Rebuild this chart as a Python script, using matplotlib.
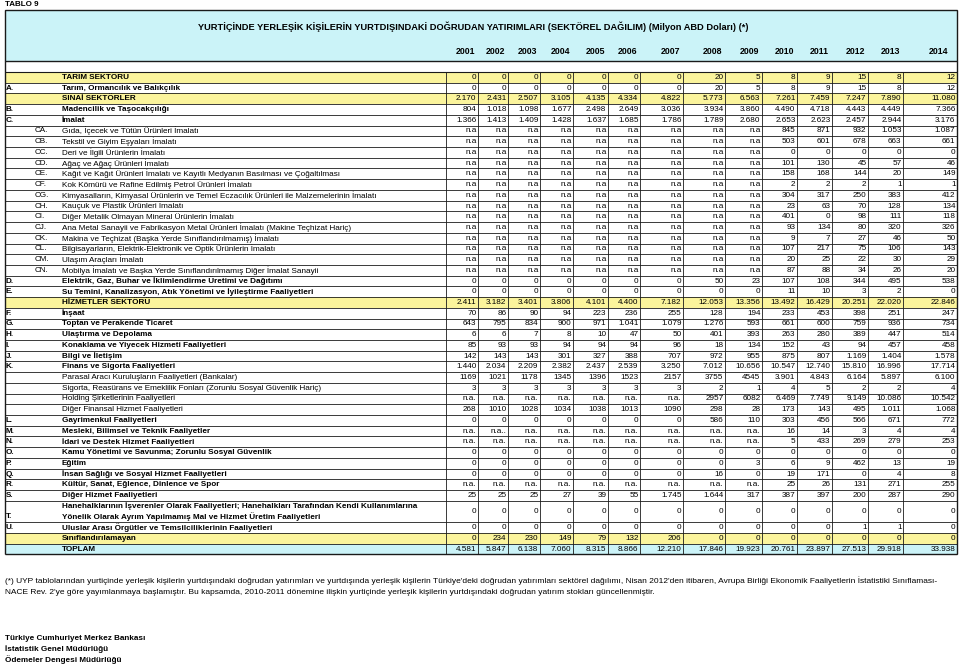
import matplotlib
matplotlib.use("Agg")
import matplotlib.pyplot as plt
from matplotlib import font_manager
from matplotlib.patches import Rectangle


# ---- table content -------------------------------------------------------

years = ["2001", "2002", "2003", "2004", "2005", "2006", "2007",
         "2008", "2009", "2010", "2011", "2012", "2013", "2014"]

NA9 = ["n.a"] * 9
NA9p = ["n.a."] * 9

rows = [
    # kind, code, name, values
    ("sector", "", "TARIM SEKTÖRÜ",
     ["0", "0", "0", "0", "0", "0", "0", "20", "5", "8", "9", "15", "8", "12"]),
    ("main", "A.", "Tarım, Ormancılık ve Balıkçılık",
     ["0", "0", "0", "0", "0", "0", "0", "20", "5", "8", "9", "15", "8", "12"]),
    ("sector", "", "SINAİ SEKTÖRLER",
     ["2.170", "2.431", "2.507", "3.105", "4.135", "4.334", "4.822",
      "5.773", "6.563", "7.261", "7.459", "7.247", "7.890", "11.080"]),
    ("main", "B.", "Madencilik ve Taşocakçılığı",
     ["804", "1.018", "1.098", "1.677", "2.498", "2.649", "3.036",
      "3.934", "3.860", "4.490", "4.718", "4.443", "4.449", "7.366"]),
    ("main", "C.", "İmalat",
     ["1.366", "1.413", "1.409", "1.428", "1.637", "1.685", "1.786",
      "1.789", "2.680", "2.653", "2.623", "2.457", "2.944", "3.176"]),
    ("sub", "CA.", "Gıda, İçecek ve Tütün Ürünleri İmalatı",
     NA9 + ["845", "871", "932", "1.053", "1.087"]),
    ("sub", "CB.", "Tekstil ve Giyim Eşyaları İmalatı",
     NA9 + ["503", "601", "678", "663", "661"]),
    ("sub", "CC.", "Deri ve İlgili Ürünlerin İmalatı",
     NA9 + ["0", "0", "0", "0", "0"]),
    ("sub", "CD.", "Ağaç ve Ağaç Ürünleri İmalatı",
     NA9 + ["101", "130", "45", "57", "46"]),
    ("sub", "CE.", "Kağıt ve Kağıt Ürünleri İmalatı ve Kayıtlı Medyanın "
                   "Basılması ve Çoğaltılması",
     NA9 + ["158", "168", "144", "20", "149"]),
    ("sub", "CF.", "Kok Kömürü ve Rafine Edilmiş Petrol Ürünleri İmalatı",
     NA9 + ["2", "2", "2", "1", "1"]),
    ("sub", "CG.", "Kimyasalların, Kimyasal Ürünlerin ve Temel Eczacılık "
                   "Ürünleri ile Malzemelerinin İmalatı",
     NA9 + ["304", "317", "250", "383", "412"]),
    ("sub", "CH.", "Kauçuk ve Plastik Ürünleri İmalatı",
     NA9 + ["23", "63", "70", "128", "134"]),
    ("sub", "CI.", "Diğer Metalik Olmayan Mineral Ürünlerin İmalatı",
     NA9 + ["401", "0", "98", "111", "118"]),
    ("sub", "CJ.", "Ana Metal Sanayii ve Fabrikasyon Metal Ürünleri "
                   "İmalatı (Makine Teçhizat Hariç)",
     NA9 + ["93", "134", "80", "320", "326"]),
    ("sub", "CK.", "Makina ve Teçhizat (Başka Yerde Sınıflandırılmamış) İmalatı",
     NA9 + ["9", "7", "27", "46", "50"]),
    ("sub", "CL.", "Bilgisayarların, Elektrik-Elektronik ve Optik "
                   "Ürünlerin İmalatı",
     NA9 + ["107", "217", "75", "106", "143"]),
    ("sub", "CM.", "Ulaşım Araçları İmalatı",
     NA9 + ["20", "25", "22", "30", "29"]),
    ("sub", "CN.", "Mobilya İmalatı ve Başka Yerde Sınıflandırılmamış "
                   "Diğer İmalat Sanayii",
     NA9 + ["87", "88", "34", "26", "20"]),
    ("main", "D.", "Elektrik, Gaz, Buhar ve İklimlendirme Üretimi ve Dağıtımı",
     ["0", "0", "0", "0", "0", "0", "0", "50", "23", "107", "108",
      "344", "495", "538"]),
    ("main", "E.", "Su Temini, Kanalizasyon, Atık Yönetimi ve "
                   "İyileştirme Faaliyetleri",
     ["0", "0", "0", "0", "0", "0", "0", "0", "0", "11", "10", "3", "2", "0"]),
    ("sector", "", "HİZMETLER SEKTÖRÜ",
     ["2.411", "3.182", "3.401", "3.806", "4.101", "4.400", "7.182",
      "12.053", "13.356", "13.492", "16.429", "20.251", "22.020", "22.846"]),
    ("main", "F.", "İnşaat",
     ["70", "86", "90", "94", "223", "236", "255", "128", "194", "233",
      "453", "398", "251", "247"]),
    ("main", "G.", "Toptan ve Perakende Ticaret",
     ["643", "795", "834", "900", "971", "1.041", "1.079", "1.276", "593",
      "661", "600", "759", "936", "734"]),
    ("main", "H.", "Ulaştırma ve Depolama",
     ["6", "6", "7", "8", "10", "47", "50", "401", "393", "263", "280",
      "389", "447", "514"]),
    ("main", "I.", "Konaklama ve Yiyecek Hizmeti Faaliyetleri",
     ["85", "93", "93", "94", "94", "94", "96", "18", "134", "152", "43",
      "94", "457", "458"]),
    ("main", "J.", "Bilgi ve İletişim",
     ["142", "143", "143", "301", "327", "388", "707", "972", "955", "875",
      "807", "1.169", "1.404", "1.578"]),
    ("main", "K.", "Finans ve Sigorta Faaliyetleri",
     ["1.440", "2.034", "2.209", "2.382", "2.437", "2.539", "3.250",
      "7.012", "10.656", "10.547", "12.740", "15.810", "16.996", "17.714"]),
    ("sub", "", "Parasal Aracı Kuruluşların Faaliyetleri (Bankalar)",
     ["1169", "1021", "1178", "1345", "1396", "1523", "2157", "3755",
      "4545", "3.901", "4.843", "6.164", "5.897", "6.100"]),
    ("sub", "", "Sigorta, Reasürans ve Emeklilik Fonları (Zorunlu Sosyal "
                "Güvenlik Hariç)",
     ["3", "3", "3", "3", "3", "3", "3", "2", "1", "4", "5", "2", "2", "4"]),
    ("sub", "", "Holding Şirketlerinin Faaliyetleri",
     ["n.a."] * 7 + ["2957", "6082", "6.469", "7.749", "9.149",
                     "10.086", "10.542"]),
    ("sub", "", "Diğer Finansal Hizmet Faaliyetleri",
     ["268", "1010", "1028", "1034", "1038", "1013", "1090", "298", "28",
      "173", "143", "495", "1.011", "1.068"]),
    ("main", "L.", "Gayrimenkul Faaliyetleri",
     ["0", "0", "0", "0", "0", "0", "0", "586", "110", "303", "456",
      "566", "671", "772"]),
    ("main", "M.", "Mesleki, Bilimsel ve Teknik Faaliyetler",
     ["n.a.", "n.a..", "n.a.", "n.a.", "n.a.", "n.a.", "n.a.", "n.a.",
      "n.a.", "16", "14", "3", "4", "4"]),
    ("main", "N.", "İdari ve Destek Hizmet Faaliyetleri",
     NA9p + ["5", "433", "269", "279", "253"]),
    ("main", "O.", "Kamu Yönetimi ve Savunma; Zorunlu Sosyal Güvenlik",
     ["0"] * 14),
    ("main", "P.", "Eğitim",
     ["0", "0", "0", "0", "0", "0", "0", "0", "3", "6", "9", "462",
      "13", "19"]),
    ("main", "Q.", "İnsan Sağlığı ve Sosyal Hizmet Faaliyetleri",
     ["0", "0", "0", "0", "0", "0", "0", "16", "0", "19", "171", "0",
      "4", "8"]),
    ("main", "R.", "Kültür, Sanat, Eğlence, Dinlence ve Spor",
     NA9p + ["25", "26", "131", "271", "255"]),
    ("main", "S.", "Diğer Hizmet Faaliyetleri",
     ["25", "25", "25", "27", "39", "55", "1.745", "1.644", "317", "387",
      "397", "200", "287", "290"]),
    ("main2", "T.", "Hanehalklarının İşverenler Olarak Faaliyetleri; "
                    "Hanehalkları Tarafından Kendi Kullanımlarına\n"
                    "Yönelik Olarak Ayrım Yapılmamış Mal ve Hizmet "
                    "Üretim Faaliyetleri",
     ["0"] * 14),
    ("main", "U.", "Uluslar Arası Örgütler ve Temsilciliklerinin Faaliyetleri",
     ["0"] * 11 + ["1", "1", "0"]),
    ("sector", "", "Sınıflandırılamayan",
     ["0", "234", "230", "149", "79", "132", "206", "0", "0", "0", "0",
      "0", "0", "0"]),
    ("total", "", "TOPLAM",
     ["4.581", "5.847", "6.138", "7.060", "8.315", "8.866", "12.210",
      "17.846", "19.923", "20.761", "23.897", "27.513", "29.918", "33.938"]),
]

title = ("YURTİÇİNDE YERLEŞİK KİŞİLERİN YURTDIŞINDAKİ DOĞRUDAN YATIRIMLARI "
         "(SEKTÖREL DAĞILIM) (Milyon ABD Doları) (*)")

footnote = [
    "(*) UYP tablolarından yurtiçinde yerleşik kişilerin yurtdışındaki "
    "doğrudan yatırımları ve yurtdışında yerleşik kişilerin Türkiye'deki "
    "doğrudan yatırımları sektörel dağılımı, Nisan 2012'den itibaren, "
    "Avrupa Birliği Ekonomik Faaliyetlerin İstatistiki Sınıflaması-",
    "NACE Rev. 2'ye göre yayımlanmaya başlamıştır. Bu kapsamda, 2010-2011 "
    "dönemine ilişkin yurtiçinde yerleşik kişilerin yurtdışındaki doğrudan "
    "yatırım stokları güncellenmiştir.",
]

source = ["Türkiye Cumhuriyet Merkez Bankası",
          "İstatistik Genel Müdürlüğü",
          "Ödemeler Dengesi Müdürlüğü"]


# ---- layout (pixels) -----------------------------------------------------

W, H = 960, 666
LEFT, RIGHT = 5, 957
LABEL_END = 446
col_edges = [LABEL_END, 478, 508, 540, 573, 608, 640, 683, 725,
             762, 797, 832, 868, 903, 957]
ROW_H = 10.72
TOP = 72

YELLOW = "#FBF49C"
CYAN = "#CBF3F8"
LINE = "#1a1a1a"
FS = 5.9


def pick_font(name, fallback):
    try:
        font_manager.findfont(name, fallback_to_default=False)
        return name
    except Exception:
        return fallback


BASE = "Liberation Sans"
NARROW = pick_font("Liberation Sans Narrow", BASE)

plt.rcParams["font.family"] = [BASE, "DejaVu Sans"]

fig = plt.figure(figsize=(W / 100, H / 100), dpi=100)
ax = fig.add_axes([0, 0, 1, 1])
ax.set_xlim(0, W)
ax.set_ylim(H, 0)
ax.axis("off")


def hline(y, x0=LEFT, x1=RIGHT, lw=0.6):
    ax.plot([x0, x1], [y, y], color=LINE, lw=lw, solid_capstyle="butt")


def vline(x, y0, y1, lw=0.6):
    ax.plot([x, x], [y0, y1], color=LINE, lw=lw, solid_capstyle="butt")


# header
ax.text(LEFT, 4, "TABLO 9", fontsize=5.8, fontweight="bold",
        family=[NARROW, BASE], va="center", ha="left")
ax.add_patch(Rectangle((LEFT, 10), RIGHT - LEFT, 51, facecolor=CYAN,
                       edgecolor=LINE, lw=1.0))
ax.text(473, 27, title, fontsize=6.65, fontweight="bold",
        family=[NARROW, BASE], ha="center", va="center")
for i, yr in enumerate(years):
    x = col_edges[i + 1] - 3 if i < 13 else col_edges[i + 1] - 9
    ax.text(x, 52, yr, fontsize=6.3, fontweight="bold",
            family=[NARROW, BASE], ha="right", va="center")

# blank row under header
hline(TOP, lw=0.8)

# body rows
y = TOP
for kind, code, name, vals in rows:
    h = ROW_H * (2 if kind == "main2" else 1)
    yc = y + h / 2

    if kind in ("sector", "total"):
        ax.add_patch(Rectangle((LEFT, y), RIGHT - LEFT, h,
                               facecolor=YELLOW if kind == "sector" else CYAN,
                               edgecolor="none", zorder=0))

    bold = "normal" if kind == "sub" else "bold"
    if kind == "sub" and code:
        ax.text(35, yc, code, fontsize=FS, ha="left", va="center")
    elif code:
        cy = y + h - ROW_H / 2
        ax.text(6, cy, code, fontsize=FS, fontweight="bold",
                ha="left", va="center")

    if kind == "main2":
        ax.text(62, yc, name, fontsize=FS, fontweight="bold",
                ha="left", va="center", linespacing=1.35)
    else:
        ax.text(62, yc, name, fontsize=FS, fontweight=bold,
                ha="left", va="center")

    for i, v in enumerate(vals):
        ax.text(col_edges[i + 1] - 1.5, yc, v, fontsize=FS,
                ha="right", va="center")

    y += h
    hline(y)

BOTTOM = y

# vertical lines
for x in col_edges:
    vline(x, TOP, BOTTOM)
vline(LEFT, 61, BOTTOM, lw=1.0)
vline(RIGHT, 61, BOTTOM, lw=1.0)
hline(BOTTOM, lw=1.0)

# footnote and source
for k, line in enumerate(footnote):
    ax.text(LEFT, 581 + k * 11, line, fontsize=6.0,
            family=[NARROW, BASE], ha="left", va="center")
for k, line in enumerate(source):
    ax.text(LEFT, 638 + k * 11, line, fontsize=5.9, fontweight="bold",
            family=[NARROW, BASE], ha="left", va="center")

fig.savefig("out.png", dpi=100)
